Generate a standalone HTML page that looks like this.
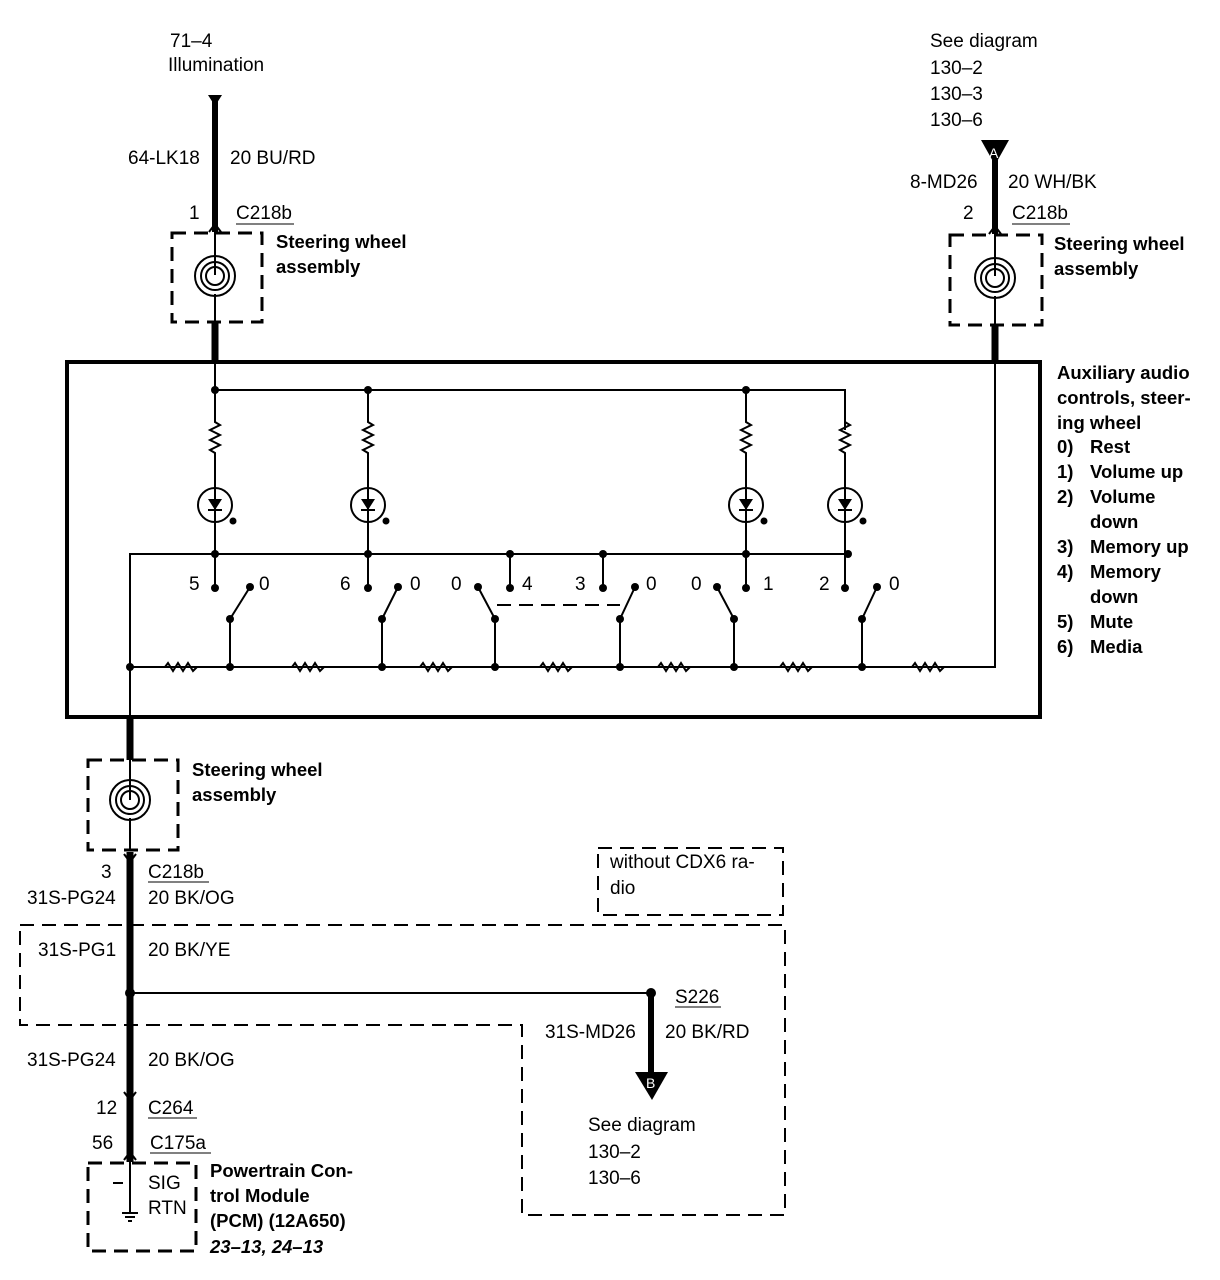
<!DOCTYPE html>
<html><head><meta charset="utf-8"><style>
html,body{margin:0;padding:0;background:#fff;}
svg{display:block;}
text{font-family:"Liberation Sans",sans-serif;font-size:19px;fill:#000;}
.b{font-weight:bold;font-size:18.5px;}
</style></head><body>
<svg width="1220" height="1280" viewBox="0 0 1220 1280" xmlns="http://www.w3.org/2000/svg">
<g stroke="#000" fill="none">
<line x1="215" y1="97" x2="215" y2="232" stroke-width="6"/>
<path d="M208,95 h14 l-7,11 z" fill="#000" stroke="none"/>
<path d="M209,232 l6,-8 l6,8" stroke-width="2"/>
<rect x="172" y="233" width="90" height="89" stroke-width="3" stroke-dasharray="14,8"/>
<line x1="215" y1="232" x2="215" y2="275" stroke-width="2"/>
<circle cx="215" cy="276" r="20" stroke-width="2"/>
<circle cx="215" cy="276" r="14" stroke-width="2"/>
<circle cx="215" cy="276" r="9" stroke-width="2"/>
<line x1="215" y1="294" x2="215" y2="322" stroke-width="2"/>
<line x1="215" y1="322" x2="215" y2="362" stroke-width="7"/>
<line x1="215" y1="362" x2="215" y2="390" stroke-width="2"/>

<line x1="995" y1="160" x2="995" y2="234" stroke-width="6"/>
<path d="M989,234 l6,-8 l6,8" stroke-width="2"/>
<rect x="950" y="235" width="92" height="90" stroke-width="3" stroke-dasharray="14,8"/>
<line x1="995" y1="234" x2="995" y2="276" stroke-width="2"/>
<circle cx="995" cy="278" r="20" stroke-width="2"/>
<circle cx="995" cy="278" r="14" stroke-width="2"/>
<circle cx="995" cy="278" r="9" stroke-width="2"/>
<line x1="995" y1="296" x2="995" y2="325" stroke-width="2"/>
<line x1="995" y1="325" x2="995" y2="363" stroke-width="7"/>
<path d="M995,363 V667 H130" stroke-width="2"/>

<rect x="67" y="362" width="973" height="355" stroke-width="4"/>

<path d="M215,390 H845 V430" stroke-width="2"/>
<g stroke-width="2">
<path d="M215,390 V422 l5,3 l-10,5 l10,5 l-10,5 l10,5 l-10,5 l5,3 V554"/>
<path d="M368,390 V422 l5,3 l-10,5 l10,5 l-10,5 l10,5 l-10,5 l5,3 V588"/>
<path d="M746,390 V422 l5,3 l-10,5 l10,5 l-10,5 l10,5 l-10,5 l5,3 V588"/>
<path d="M845,422 l5,3 l-10,5 l10,5 l-10,5 l10,5 l-10,5 l5,3 V588"/>
<path d="M215,554 V588"/>
<circle cx="215" cy="505" r="17" fill="#fff"/><circle cx="368" cy="505" r="17" fill="#fff"/>
<circle cx="746" cy="505" r="17" fill="#fff"/><circle cx="845" cy="505" r="17" fill="#fff"/>
<line x1="215" y1="488" x2="215" y2="522"/><line x1="368" y1="488" x2="368" y2="522"/>
<line x1="746" y1="488" x2="746" y2="522"/><line x1="845" y1="488" x2="845" y2="522"/>
<line x1="208" y1="510" x2="222" y2="510"/><line x1="361" y1="510" x2="375" y2="510"/>
<line x1="739" y1="510" x2="753" y2="510"/><line x1="838" y1="510" x2="852" y2="510"/>
<path d="M848,554 H130 V717"/>
<path d="M510,554 V588"/><path d="M603,554 V588"/>
<path d="M230,667 V619 L250,587"/>
<path d="M382,667 V619 L398,587"/>
<path d="M495,667 V619 L478,587"/>
<path d="M620,667 V619 L635,587"/>
<path d="M734,667 V619 L717,587"/>
<path d="M862,667 V619 L877,587"/>
<line x1="497" y1="605" x2="620" y2="605" stroke-dasharray="14,8"/>
<path d="M165,667 l3,-4 l5,8 l5,-8 l5,8 l5,-8 l5,8 l4,-4"/>
<path d="M292,667 l3,-4 l5,8 l5,-8 l5,8 l5,-8 l5,8 l4,-4"/>
<path d="M420,667 l3,-4 l5,8 l5,-8 l5,8 l5,-8 l5,8 l4,-4"/>
<path d="M540,667 l3,-4 l5,8 l5,-8 l5,8 l5,-8 l5,8 l4,-4"/>
<path d="M658,667 l3,-4 l5,8 l5,-8 l5,8 l5,-8 l5,8 l4,-4"/>
<path d="M780,667 l3,-4 l5,8 l5,-8 l5,8 l5,-8 l5,8 l4,-4"/>
<path d="M912,667 l3,-4 l5,8 l5,-8 l5,8 l5,-8 l5,8 l4,-4"/>
</g>

<line x1="130" y1="717" x2="130" y2="760" stroke-width="7"/>
<rect x="88" y="760" width="90" height="90" stroke-width="3" stroke-dasharray="14,8"/>
<line x1="130" y1="760" x2="130" y2="800" stroke-width="2"/>
<circle cx="130" cy="800" r="20" stroke-width="2"/>
<circle cx="130" cy="800" r="14" stroke-width="2"/>
<circle cx="130" cy="800" r="9" stroke-width="2"/>
<line x1="130" y1="818" x2="130" y2="850" stroke-width="2"/>
<line x1="130" y1="852" x2="130" y2="1162" stroke-width="7"/>
<path d="M124,854 l6,8 l6,-8" stroke-width="2"/>
<path d="M124,1092 l6,8 l6,-8" stroke-width="2"/>
<path d="M124,1160 l6,-8 l6,8" stroke-width="2"/>
<line x1="130" y1="1162" x2="130" y2="1212" stroke-width="2"/>
<path d="M122,1213 h16 M125,1217 h10 M128,1221 h4" stroke-width="2"/>
<line x1="113" y1="1183" x2="123" y2="1183" stroke-width="2"/>
<rect x="88" y="1163" width="108" height="88" stroke-width="3" stroke-dasharray="14,8"/>

<path d="M20,925 H785 V1215 H522 V1025 H20 Z" stroke-width="2" stroke-dasharray="14,8"/>
<rect x="598" y="848" width="185" height="67" stroke-width="2" stroke-dasharray="14,8"/>
<line x1="130" y1="993" x2="651" y2="993" stroke-width="2"/>
<line x1="651" y1="993" x2="651" y2="1072" stroke-width="6"/>

<g stroke-width="1">
<line x1="236" y1="224" x2="294" y2="224"/>
<line x1="1012" y1="224" x2="1070" y2="224"/>
<line x1="148" y1="882" x2="209" y2="882"/>
<line x1="675" y1="1007" x2="721" y2="1007"/>
<line x1="148" y1="1118" x2="197" y2="1118"/>
<line x1="150" y1="1153" x2="211" y2="1153"/>
</g>
</g>
<g fill="#000">
<path d="M981,140 h28 l-14,25 z"/>
<path d="M635,1072 h33 l-16,28 z"/>
<circle cx="215" cy="390" r="4"/><circle cx="368" cy="390" r="4"/><circle cx="746" cy="390" r="4"/>
<circle cx="215" cy="554" r="4"/><circle cx="368" cy="554" r="4"/><circle cx="510" cy="554" r="4"/>
<circle cx="603" cy="554" r="4"/><circle cx="746" cy="554" r="4"/><circle cx="848" cy="554" r="4"/>
<circle cx="215" cy="588" r="4"/><circle cx="368" cy="588" r="4"/><circle cx="510" cy="588" r="4"/>
<circle cx="603" cy="588" r="4"/><circle cx="746" cy="588" r="4"/><circle cx="845" cy="588" r="4"/>
<circle cx="250" cy="587" r="4"/><circle cx="398" cy="587" r="4"/><circle cx="478" cy="587" r="4"/>
<circle cx="635" cy="587" r="4"/><circle cx="717" cy="587" r="4"/><circle cx="877" cy="587" r="4"/>
<circle cx="230" cy="619" r="4"/><circle cx="382" cy="619" r="4"/><circle cx="495" cy="619" r="4"/>
<circle cx="620" cy="619" r="4"/><circle cx="734" cy="619" r="4"/><circle cx="862" cy="619" r="4"/>
<circle cx="130" cy="667" r="4"/><circle cx="230" cy="667" r="4"/><circle cx="382" cy="667" r="4"/>
<circle cx="495" cy="667" r="4"/><circle cx="620" cy="667" r="4"/><circle cx="734" cy="667" r="4"/>
<circle cx="862" cy="667" r="4"/>
<circle cx="130" cy="993" r="5"/><circle cx="651" cy="993" r="5"/>
<circle cx="233" cy="521" r="3.5"/><circle cx="386" cy="521" r="3.5"/><circle cx="764" cy="521" r="3.5"/><circle cx="863" cy="521" r="3.5"/>
<path d="M208,499 h14 l-7,11 z"/><path d="M361,499 h14 l-7,11 z"/>
<path d="M739,499 h14 l-7,11 z"/><path d="M838,499 h14 l-7,11 z"/>
</g>
<text x="989" y="158" style="font-size:14px;fill:#fff">A</text>
<text x="646" y="1088" style="font-size:14px;fill:#fff">B</text>

<text x="170" y="47">71–4</text>
<text x="168" y="71">Illumination</text>
<text x="128" y="164">64-LK18</text>
<text x="230" y="164">20 BU/RD</text>
<text x="189" y="219">1</text>
<text x="236" y="219">C218b</text>
<text x="276" y="248" class="b">Steering wheel</text>
<text x="276" y="273" class="b">assembly</text>

<text x="930" y="47">See diagram</text>
<text x="930" y="74">130–2</text>
<text x="930" y="100">130–3</text>
<text x="930" y="126">130–6</text>
<text x="910" y="188">8-MD26</text>
<text x="1008" y="188">20 WH/BK</text>
<text x="963" y="219">2</text>
<text x="1012" y="219">C218b</text>
<text x="1054" y="250" class="b">Steering wheel</text>
<text x="1054" y="275" class="b">assembly</text>

<text x="1057" y="379" class="b">Auxiliary audio</text>
<text x="1057" y="404" class="b">controls, steer-</text>
<text x="1057" y="429" class="b">ing wheel</text>
<text x="1057" y="453" class="b">0)</text><text x="1090" y="453" class="b">Rest</text>
<text x="1057" y="478" class="b">1)</text><text x="1090" y="478" class="b">Volume up</text>
<text x="1057" y="503" class="b">2)</text><text x="1090" y="503" class="b">Volume</text>
<text x="1090" y="528" class="b">down</text>
<text x="1057" y="553" class="b">3)</text><text x="1090" y="553" class="b">Memory up</text>
<text x="1057" y="578" class="b">4)</text><text x="1090" y="578" class="b">Memory</text>
<text x="1090" y="603" class="b">down</text>
<text x="1057" y="628" class="b">5)</text><text x="1090" y="628" class="b">Mute</text>
<text x="1057" y="653" class="b">6)</text><text x="1090" y="653" class="b">Media</text>

<text x="189" y="590">5</text><text x="259" y="590">0</text>
<text x="340" y="590">6</text><text x="410" y="590">0</text>
<text x="451" y="590">0</text><text x="522" y="590">4</text>
<text x="575" y="590">3</text><text x="646" y="590">0</text>
<text x="691" y="590">0</text><text x="763" y="590">1</text>
<text x="819" y="590">2</text><text x="889" y="590">0</text>

<text x="192" y="776" class="b">Steering wheel</text>
<text x="192" y="801" class="b">assembly</text>
<text x="101" y="878">3</text>
<text x="148" y="878">C218b</text>
<text x="27" y="904">31S-PG24</text>
<text x="148" y="904">20 BK/OG</text>
<text x="610" y="868">without CDX6 ra-</text>
<text x="610" y="894">dio</text>
<text x="38" y="956">31S-PG1</text>
<text x="148" y="956">20 BK/YE</text>
<text x="675" y="1003">S226</text>
<text x="545" y="1038">31S-MD26</text>
<text x="665" y="1038">20 BK/RD</text>
<text x="27" y="1066">31S-PG24</text>
<text x="148" y="1066">20 BK/OG</text>
<text x="96" y="1114">12</text>
<text x="148" y="1114">C264</text>
<text x="92" y="1149">56</text>
<text x="150" y="1149">C175a</text>
<text x="588" y="1131">See diagram</text>
<text x="588" y="1158">130–2</text>
<text x="588" y="1184">130–6</text>
<text x="148" y="1189">SIG</text>
<text x="148" y="1214">RTN</text>
<text x="210" y="1177" class="b">Powertrain Con-</text>
<text x="210" y="1202" class="b">trol Module</text>
<text x="210" y="1227" class="b">(PCM) (12A650)</text>
<text x="210" y="1253" class="b" style="font-style:italic">23–13, 24–13</text>
</svg>
</body></html>
